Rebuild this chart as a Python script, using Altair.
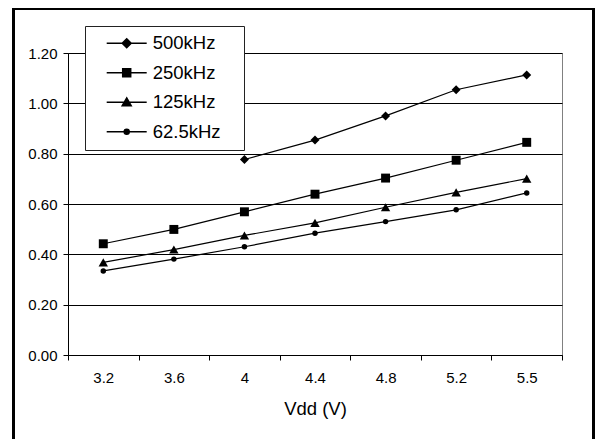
import altair as alt
import pandas as pd

# ---- data ----
vdd = ["3.2", "3.6", "4", "4.4", "4.8", "5.2", "5.5"]
series = ["500kHz", "250kHz", "125kHz", "62.5kHz"]
i_500k = [None, None, 0.777, 0.854, 0.950, 1.054, 1.113]
i_250k = [0.442, 0.499, 0.569, 0.639, 0.703, 0.774, 0.845]
i_125k = [0.368, 0.419, 0.475, 0.525, 0.587, 0.646, 0.701]
i_62k5 = [0.334, 0.381, 0.430, 0.484, 0.530, 0.577, 0.644]
y_ticks = [0.0, 0.2, 0.4, 0.6, 0.8, 1.0, 1.2]

marker_shapes = ["diamond", "square", "triangle-up", "circle"]
marker_sizes = [81, 80, 88, 30]
# legend symbols: short line with the marker in the middle
legend_paths = [
    "M-4,0H4M0,-0.9L0.9,0L0,0.9L-0.9,0ZM21.2,0",
    "M-4,0H4M-0.8,-0.8H0.8V0.8H-0.8ZM21.2,0",
    "M-4,0H4M0,-0.85L0.9,0.7L-0.9,0.7ZM21.2,0",
    "M-4,0H4M-0.5,0A0.5,0.5,0,1,1,0.5,0A0.5,0.5,0,1,1,-0.5,0ZM21.2,0",
]

rows = []
for s, vals in zip(series, [i_500k, i_250k, i_125k, i_62k5]):
    for v, c in zip(vdd, vals):
        if c is not None:
            rows.append({"vdd": v, "series": s, "current": c})
df = pd.DataFrame(rows)

FONT = "Liberation Sans"

x_enc = alt.X(
    "vdd:N",
    sort=vdd,
    bandPosition=0.5,
    scale=alt.Scale(type="band", domain=vdd, paddingInner=0, paddingOuter=0),
    axis=alt.Axis(
        title="Vdd (V)", tickBand="extent", labelAngle=0, grid=False,
        tickSize=5, labelPadding=10, titlePadding=14,
    ),
)
y_enc = alt.Y(
    "current:Q",
    scale=alt.Scale(domain=[0, 1.2], nice=False, zero=True),
    axis=alt.Axis(
        title=None, values=y_ticks, format=".2f", grid=True,
        tickSize=5, labelPadding=6,
    ),
)

base = alt.Chart(df)

frame = alt.Chart(pd.DataFrame({"k": [0]})).mark_rect(
    filled=False, stroke="black", strokeWidth=3
).encode(
    x=alt.value(-54.5), x2=alt.value(525.5), y=alt.value(-44.5), y2=alt.value(440)
)

lines = base.mark_line(color="black", strokeWidth=1.2).encode(
    x=x_enc, y=y_enc, detail="series:N"
)

point_layers = [
    base.transform_filter(alt.datum.series == s)
    .mark_point(filled=True, color="black", opacity=1, shape=shp, size=sz)
    .encode(x=x_enc, y=y_enc)
    for s, shp, sz in zip(series, marker_shapes, marker_sizes)
]

legend_layer = base.transform_filter("false").mark_point(
    filled=True, color="black", stroke="black", strokeWidth=1.2, size=0
).encode(
    x=x_enc,
    y=y_enc,
    shape=alt.Shape(
        "series:N",
        scale=alt.Scale(domain=series, range=legend_paths),
        legend=alt.Legend(
            title=None, orient="none", legendX=17, legendY=-27,
            padding=8, rowPadding=10.5, symbolSize=100,
            symbolOffset=24.45, labelOffset=16.75,
            labelFont=FONT, labelFontSize=18.5, labelColor="black", labelLimit=400,
            strokeColor="#222222", fillColor="white", symbolOpacity=1,
        ),
    ),
)

chart = (
    alt.layer(frame, lines, *point_layers, legend_layer)
    .properties(
        width=494, height=302,
        padding={"left": 60, "top": 45, "right": 33, "bottom": 84},
        autosize=alt.AutoSizeParams(type="none"),
    )
    .configure_view(stroke="#808080", strokeWidth=1)
    .configure_axis(
        labelFont=FONT, labelFontSize=15, labelColor="black",
        titleFont=FONT, titleFontSize=18.5, titleFontWeight="normal", titleColor="black",
        domainColor="black", tickColor="black", gridColor="black", gridWidth=1,
    )
)

chart.save("out.html", embed_options={"renderer": "svg", "actions": False})
